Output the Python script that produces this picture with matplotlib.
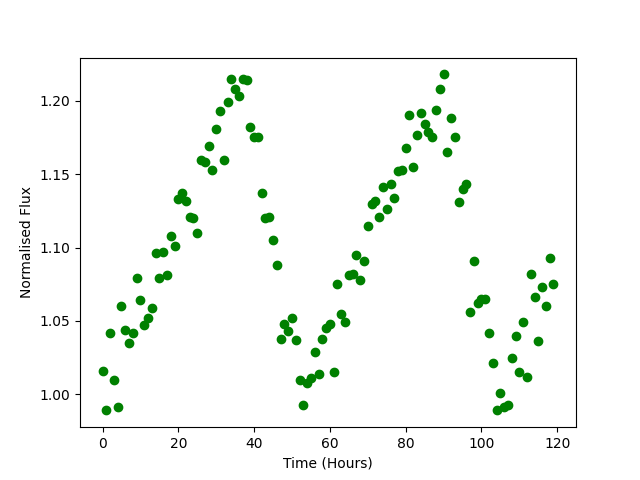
import numpy as np
import matplotlib
matplotlib.use("Agg")
import matplotlib.pyplot as plt

# time in hours, one sample per hour
hours = list(range(120))

# normalised flux
flux = [
    1.016, 0.989, 1.042, 1.010, 0.991, 1.060, 1.044, 1.035, 1.042, 1.079,
    1.064, 1.047, 1.052, 1.059, 1.096, 1.079, 1.097, 1.081, 1.108, 1.101,
    1.133, 1.137, 1.132, 1.121, 1.120, 1.110, 1.160, 1.158, 1.169, 1.153,
    1.181, 1.193, 1.160, 1.199, 1.215, 1.208, 1.203, 1.215, 1.214, 1.182,
    1.175, 1.175, 1.137, 1.120, 1.121, 1.105, 1.088, 1.038, 1.048, 1.043,
    1.052, 1.037, 1.010, 0.993, 1.008, 1.011, 1.029, 1.014, 1.038, 1.045,
    1.048, 1.015, 1.075, 1.055, 1.049, 1.081, 1.082, 1.095, 1.078, 1.091,
    1.115, 1.130, 1.132, 1.121, 1.141, 1.126, 1.143, 1.134, 1.152, 1.153,
    1.168, 1.190, 1.155, 1.177, 1.192, 1.184, 1.179, 1.175, 1.194, 1.208,
    1.218, 1.165, 1.188, 1.175, 1.131, 1.140, 1.143, 1.056, 1.091, 1.062,
    1.065, 1.065, 1.042, 1.021, 0.989, 1.001, 0.991, 0.993, 1.025, 1.040,
    1.015, 1.049, 1.012, 1.082, 1.066, 1.036, 1.073, 1.060, 1.093, 1.075,
]

plt.figure(figsize=(6.4, 4.8), dpi=100)
plt.plot(hours, flux, "go")
plt.xlabel("Time (Hours)")
plt.ylabel("Normalised Flux")
plt.savefig("out.png")
